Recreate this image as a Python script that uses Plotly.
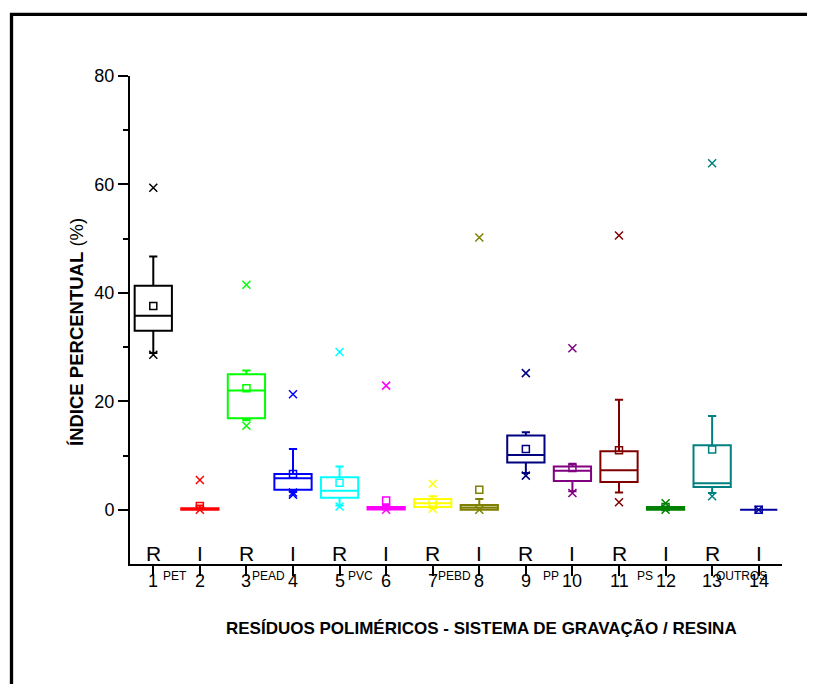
import plotly.graph_objects as go

# ---- data ----
positions = [1, 2, 3, 4, 5, 6, 7, 8, 9, 10, 11, 12, 13, 14]
tick_text = ["1", "2", "3", "4", "5", "6", "7", "8", "9", "10", "11", "12", "13", "14"]
system_labels = ["R", "I", "R", "I", "R", "I", "R", "I", "R", "I", "R", "I", "R", "I"]
resin_names = ["PET", "PEAD", "PVC", "PEBD", "PP", "PS", "OUTROS"]
resin_pos = [1.47, 3.48, 5.46, 7.46, 9.54, 11.56, 13.63]

q1 = [33.0, 0.0, 16.9, 3.7, 2.2, 0.05, 0.5, 0.0, 8.7, 5.3, 5.1, 0.0, 4.2, 0.0]
median = [35.8, 0.1, 22.0, 5.8, 3.5, 0.2, 1.2, 0.4, 10.1, 7.2, 7.3, 0.2, 4.9, 0.0]
q3 = [41.3, 0.3, 25.0, 6.6, 6.0, 0.5, 2.0, 0.9, 13.7, 8.0, 10.8, 0.5, 11.9, 0.0]
whisker_low = [28.9, 0.0, 16.5, 3.3, 0.8, 0.0, 0.3, 0.0, 6.8, 3.4, 3.2, 0.0, 3.1, 0.0]
whisker_high = [46.7, 0.8, 25.7, 11.2, 8.0, 0.9, 2.5, 2.0, 14.3, 8.5, 20.3, 0.6, 17.3, 0.0]
means = [37.6, 0.7, 22.4, 6.6, 5.0, 1.7, 1.3, 3.7, 11.2, 7.7, 11.0, 0.5, 11.1, 0.0]
extremes = [
    [59.4, 28.6],
    [5.5, 0.0],
    [41.5, 15.5],
    [21.3, 3.2, 2.8],
    [29.1, 0.6],
    [22.9, 0.0],
    [4.8, 0.2],
    [50.2, 0.0],
    [25.2, 6.3],
    [29.8, 3.1],
    [50.6, 1.4],
    [1.2, 0.0],
    [63.9, 2.5],
    [0.0],
]
colors = ["#000000", "#FF0000", "#00FF00", "#0000FF", "#00FFFF", "#FF00FF", "#FFFF00",
          "#808000", "#000080", "#800080", "#800000", "#008000", "#008080", "#0000A0"]

SANS = "Liberation Sans, Arial, sans-serif"

# plot-area geometry in page pixels (page body has an 8px margin)
L, T, W, H = 130, 76, 652, 488


def px_x(px):
    return (px - L) / W


def px_y(py):
    return (T + H - py) / H


fig = go.Figure()

for i, x in enumerate(positions):
    c = colors[i]
    fig.add_trace(go.Box(
        x=[x], q1=[q1[i]], median=[median[i]], q3=[q3[i]],
        lowerfence=[whisker_low[i]], upperfence=[whisker_high[i]],
        width=0.8, whiskerwidth=0.22, boxpoints=False,
        line=dict(color=c, width=2), fillcolor="rgba(0,0,0,0)",
        showlegend=False, hoverinfo="skip",
    ))
    fig.add_trace(go.Scatter(
        x=[x] * len(extremes[i]), y=extremes[i], mode="markers",
        marker=dict(symbol="x-thin-open", size=8, line=dict(color=c, width=1.5), color=c),
        showlegend=False, hoverinfo="skip", cliponaxis=False,
    ))
    fig.add_trace(go.Scatter(
        x=[x], y=[means[i]], mode="markers",
        marker=dict(symbol="square-open", size=7, line=dict(color=c, width=1.5), color=c),
        showlegend=False, hoverinfo="skip", cliponaxis=False,
    ))

annotations = []
for x, s in zip(positions, system_labels):
    annotations.append(dict(x=x, y=px_y(553.5), xref="x", yref="paper", text=s, showarrow=False,
                            font=dict(family=SANS, size=21, color="black"),
                            xanchor="center", yanchor="middle"))
for x, s in zip(positions, tick_text):
    annotations.append(dict(x=x, y=px_y(581), xref="x", yref="paper", text=s, showarrow=False,
                            font=dict(family=SANS, size=18, color="black"),
                            xanchor="center", yanchor="middle"))
for x, s in zip(resin_pos, resin_names):
    annotations.append(dict(x=x, y=px_y(576), xref="x", yref="paper", text=s, showarrow=False,
                            font=dict(family=SANS, size=12, color="black"),
                            xanchor="center", yanchor="middle"))
annotations.append(dict(x=px_x(481), y=px_y(628), xref="paper", yref="paper",
                        text="<b>RESÍDUOS POLIMÉRICOS - SISTEMA DE GRAVAÇÃO / RESINA</b>",
                        showarrow=False, font=dict(family=SANS, size=17, color="black"),
                        xanchor="center", yanchor="middle"))
annotations.append(dict(x=px_x(76), y=px_y(332), xref="paper", yref="paper",
                        text="<b>ÍNDICE PERCENTUAL</b> (%)", textangle=-90,
                        showarrow=False, font=dict(family=SANS, size=18.5, color="black"),
                        xanchor="center", yanchor="middle"))

fig.update_layout(
    width=815, height=684,
    margin=dict(l=L - 8, r=815 - (L - 8) - W, t=T - 8, b=684 - (T - 8) - H),
    paper_bgcolor="white", plot_bgcolor="white",
    annotations=annotations,
    shapes=[dict(type="rect", xref="paper", yref="paper",
                 x0=px_x(11.5), x1=px_x(840),
                 y0=px_y(14.3), y1=px_y(710),
                 line=dict(color="black", width=3.3), fillcolor="rgba(0,0,0,0)", layer="below")],
)
fig.update_xaxes(
    range=[0.5, 14.5], tickvals=positions, showticklabels=False,
    showline=True, linecolor="black", linewidth=2, mirror=False,
    ticks="outside", ticklen=10, tickwidth=2, tickcolor="black",
    showgrid=False, zeroline=False,
)
fig.update_yaxes(
    range=[-10, 80], tickvals=[0, 20, 40, 60, 80],
    showline=True, linecolor="black", linewidth=2,
    ticks="outside", ticklen=10, tickwidth=2, tickcolor="black",
    tickfont=dict(family=SANS, size=18, color="black"),
    minor=dict(tickvals=[10, 30, 50, 70], ticks="outside", ticklen=5, tickwidth=2, tickcolor="black"),
    showgrid=False, zeroline=False,
)

fig.write_html("out.html")
